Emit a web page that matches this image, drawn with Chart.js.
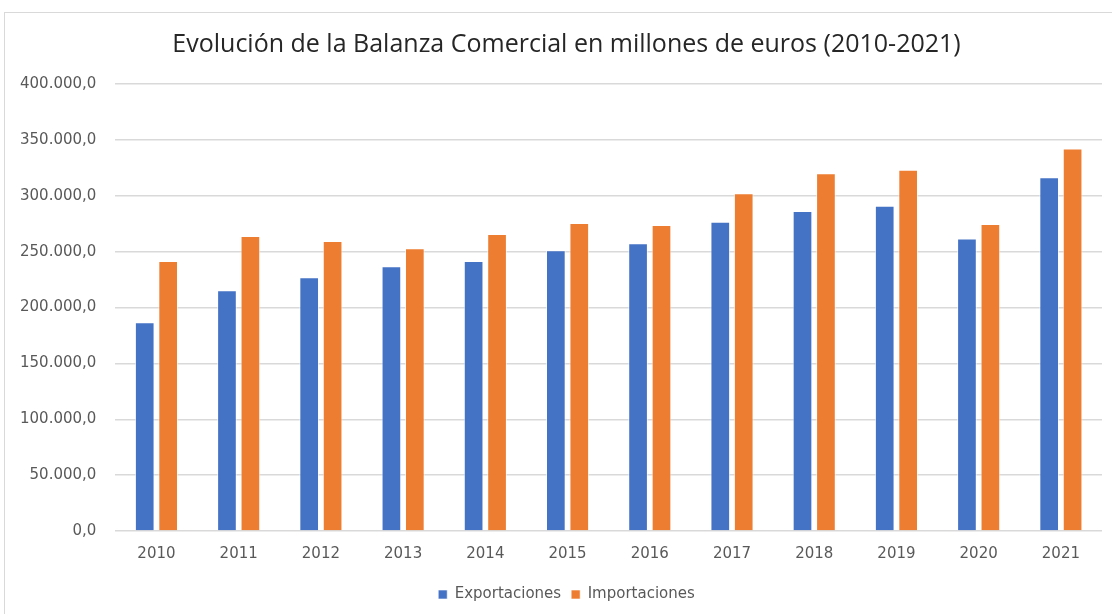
<!DOCTYPE html>
<html>
<head>
<meta charset="utf-8">
<script src="https://cdn.jsdelivr.net/npm/chart.js@4"></script>
<style>
    html, body { margin: 0; padding: 0; background: #fff; overflow: hidden; }
    #frame {
        position: absolute; left: 4px; top: 12px;
        width: 1140px; height: 620px;
        border: 1px solid #d9d9d9;
    }
    #wrap {
        position: absolute; left: 5px; top: 13px;
        width: 1127px; height: 601px;
    }
</style>
</head>
<body>
<div id="frame"></div>
<div id="wrap"><canvas id="chart1"></canvas></div>
<script>
const years = ['2010', '2011', '2012', '2013', '2014', '2015', '2016', '2017', '2018', '2019', '2020', '2021'];
const exportaciones = [186800, 215400, 227100, 237000, 241500, 251300, 257600, 276700, 286400, 291100, 261800, 316600];
const importaciones = [241500, 263900, 259400, 253100, 265700, 275600, 273800, 302200, 320200, 323200, 274700, 342300];
const yTicks = [0, 50000, 100000, 150000, 200000, 250000, 300000, 350000, 400000];

function formatEs(v) {
    // 400000 -> "400.000,0"
    const s = Math.round(v).toString().replace(/\B(?=(\d{3})+(?!\d))/g, '.');
    return s + ',0';
}

document.addEventListener('DOMContentLoaded', () => {
    const ctx = document.getElementById('chart1');

    const chart = new Chart(ctx, {
        type: 'bar',
        data: {
            labels: years,
            datasets: [{
                label: 'Exportaciones',
                data: exportaciones,
                backgroundColor: '#4472C4',
                borderColor: 'rgba(255, 255, 255, 0.6)',
                borderWidth: 1,
                barPercentage: 0.84,
                categoryPercentage: 0.57
            }, {
                label: 'Importaciones',
                data: importaciones,
                backgroundColor: '#ED7D31',
                borderColor: 'rgba(255, 255, 255, 0.6)',
                borderWidth: 1,
                barPercentage: 0.84,
                categoryPercentage: 0.57
            }]
        },
        options: {
            responsive: true,
            maintainAspectRatio: false,
            animation: false,
            layout: {
                padding: { left: -4, right: 0, top: 0, bottom: 2 }
            },
            scales: {
                x: {
                    grid: { display: false, drawTicks: false },
                    border: { display: false },
                    ticks: {
                        color: '#595959',
                        font: { family: 'DejaVu Sans', size: 15 },
                        padding: 14
                    }
                },
                y: {
                    min: 0,
                    max: 400000,
                    afterBuildTicks: (axis) => {
                        axis.ticks = yTicks.map(v => ({ value: v }));
                    },
                    grid: { color: '#d9d9d9', lineWidth: 1.5, drawTicks: false },
                    border: { display: false },
                    ticks: {
                        color: '#595959',
                        font: { family: 'DejaVu Sans', size: 15 },
                        padding: 19,
                        callback: (v) => formatEs(v)
                    }
                },
                // empty right margin so title and legend sit centred like the original
                yRight: {
                    position: 'right',
                    min: 0,
                    max: 400000,
                    grid: { display: false, drawTicks: false },
                    border: { display: false },
                    ticks: { display: false },
                    afterFit: (axis) => { axis.width = 30; }
                }
            },
            plugins: {
                title: {
                    display: true,
                    text: 'Evolución de la Balanza Comercial en millones de euros (2010-2021)',
                    color: '#262626',
                    font: { family: 'Open Sans', size: 25, weight: 'normal' },
                    padding: { top: 17, bottom: 24 }
                },
                legend: {
                    position: 'bottom',
                    labels: {
                        color: '#595959',
                        font: { family: 'DejaVu Sans', size: 15 },
                        boxWidth: 9,
                        boxHeight: 9,
                        padding: 10
                    }
                },
                tooltip: { enabled: false }
            }
        }
    });
});
</script>
</body>
</html>
